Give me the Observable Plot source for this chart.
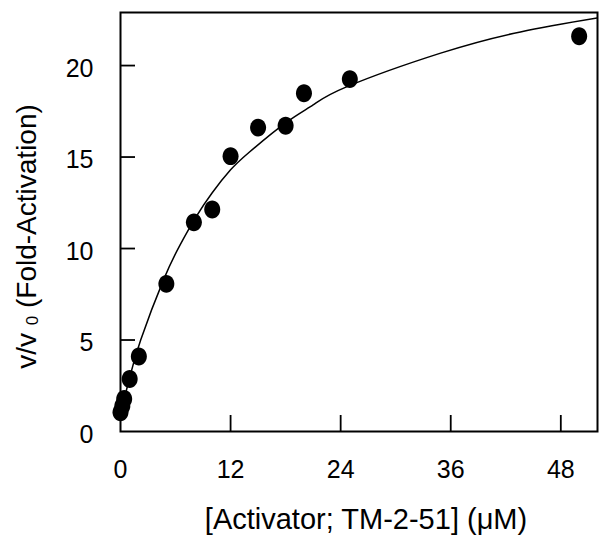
<!DOCTYPE html>
<html><head><meta charset="utf-8">
<script src="https://cdn.jsdelivr.net/npm/d3@7"></script>
<script src="https://cdn.jsdelivr.net/npm/@observablehq/plot@0.6"></script>
<style>body{margin:0;background:#fff}</style>
</head><body><div id="chart"></div>
<script>
// Measured data points
const concX = [0, 0.2, 0.4, 1, 2, 5, 8, 10, 12, 15, 18, 20, 25, 50];
const foldY = [1.05, 1.4, 1.78, 2.87, 4.1, 8.07, 11.43, 12.13, 15.05, 16.61, 16.71, 18.49, 19.26, 21.6];
// Fitted curve
const fitX = [0, 1, 2.2, 4.7, 6.5, 8.2, 10, 12, 14, 18, 21, 24.7, 34.9, 43.6, 52];
const fitY = [1.0, 2.95, 5.0, 8.3, 10.2, 11.7, 13.05, 14.3, 15.25, 16.87, 17.85, 18.85, 20.68, 21.84, 22.6];
const xTicks = [0, 12, 24, 36, 48];
const yTicks = [0, 5, 10, 15, 20];
const xLabel = "[Activator; TM-2-51] (\u03BCM)";

const W = 610, H = 552, mL = 120, mR = 13, mT = 12, mB = 121;
const plotW = W - mL - mR, plotH = H - mT - mB;

const points = concX.map((x, i) => ({x, y: foldY[i]}));
const fit = fitX.map((x, i) => ({x, y: fitY[i]}));

const ellipse = {draw(ctx, size) {
  const r = Math.sqrt(size / Math.PI), rx = r, ry = r * 1.12, k = 0.5523;
  ctx.moveTo(rx, 0);
  ctx.bezierCurveTo(rx, k * ry, k * rx, ry, 0, ry);
  ctx.bezierCurveTo(-k * rx, ry, -rx, k * ry, -rx, 0);
  ctx.bezierCurveTo(-rx, -k * ry, -k * rx, -ry, 0, -ry);
  ctx.bezierCurveTo(k * rx, -ry, rx, -k * ry, rx, 0);
  ctx.closePath();
}};

const svg = Plot.plot({
  width: W, height: H,
  marginLeft: mL, marginRight: mR, marginTop: mT, marginBottom: mB,
  style: {fontFamily: "'Liberation Sans', Arial, sans-serif", color: "black", background: "white"},
  x: {domain: [0, 52], ticks: xTicks},
  y: {domain: [0, 22.9], ticks: yTicks},
  marks: [
    Plot.line(fit, {x: "x", y: "y", curve: "natural", stroke: "black", strokeWidth: 1.5, clip: true}),
    Plot.dot(points, {x: "x", y: "y", r: 8, symbol: ellipse, fill: "black", stroke: "none"}),
    Plot.tickX(xTicks.filter(d => d > 0), {x: d => d, insetTop: plotH - 16, stroke: "black", strokeWidth: 1.8}),
    Plot.tickY(yTicks.filter(d => d > 0), {y: d => d, insetRight: plotW - 15, stroke: "black", strokeWidth: 1.8}),
    Plot.frame({stroke: "black", strokeWidth: 2}),
    Plot.axisX(xTicks, {tickSize: 0, tickPadding: 29, fontSize: 25, label: null}),
    Plot.axisY(yTicks, {tickSize: 0, tickPadding: 27, fontSize: 25, dy: 3, label: null}),
    Plot.text([xLabel], {frameAnchor: "bottom", dy: 97, dx: 7, fontSize: 29, fill: "black"})
  ]
});
document.getElementById("chart").appendChild(svg);

const yl = d3.select(svg).append("text")
  .attr("transform", `translate(36, ${mT + plotH / 2 + 15}) rotate(-90)`)
  .attr("text-anchor", "middle")
  .attr("font-family", "'Liberation Sans', Arial, sans-serif")
  .attr("font-size", 28)
  .attr("fill", "black");
yl.append("tspan").text("v/v ");
yl.append("tspan").attr("font-size", 17).attr("dy", 2).text("0");
yl.append("tspan").attr("dy", -2).text(" (Fold-Activation)");
</script>
</body></html>
